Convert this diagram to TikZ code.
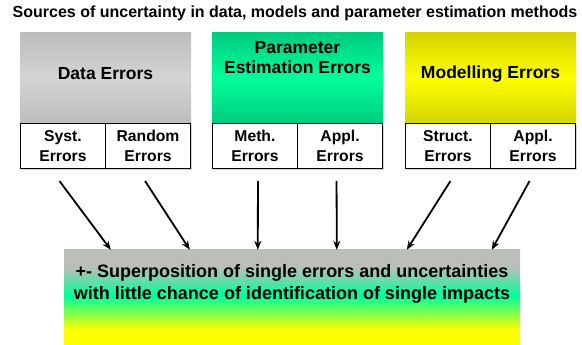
\documentclass[tikz,border=0pt]{standalone}
\usepackage{xcolor}
\usepackage{fontspec}
\setmainfont{Liberation Sans}
\usetikzlibrary{arrows.meta,shadows}

\begin{document}
\begin{tikzpicture}[x=1pt,y=1pt,
  headbox/.style={minimum width=171pt,minimum height=90pt,inner sep=0pt,draw=none},
  headtext/.style={align=center,font=\fontsize{17.5}{20}\selectfont\bfseries},
  subbox/.style={draw=black,line width=0.8pt,fill=white,minimum width=85.5pt,minimum height=45pt,
    inner sep=0pt,align=center,font=\fontsize{15.7}{20}\selectfont\bfseries,
    drop shadow={shadow xshift=1.2pt,shadow yshift=-1.2pt,opacity=0.35,fill=gray}},
  resbox/.style={minimum width=456pt,minimum height=95pt,inner sep=0pt,draw=none,shading=resshade},
  restext/.style={align=center,font=\fontsize{18}{21.5}\selectfont\bfseries},
  arr/.style={line width=1.8pt,-{Stealth[length=9pt,width=7pt]}}]
\definecolor{cdt}{rgb}{0.74,0.74,0.74}
\definecolor{cdm}{rgb}{0.83,0.83,0.83}
\definecolor{cpt}{rgb}{0.0,0.80,0.50}
\definecolor{cpm}{rgb}{0.0,1.0,0.60}
\definecolor{cmt}{rgb}{0.83,0.83,0.0}
\definecolor{cmm}{rgb}{1.0,1.0,0.0}
\definecolor{crg}{rgb}{0.73,0.75,0.73}
\definecolor{crn}{rgb}{0.0,1.0,0.60}
\definecolor{cry}{rgb}{1.0,1.0,0.0}
\pgfdeclareverticalshading{resshade}{100bp}{color(0bp)=(cry); color(33bp)=(cry);
  color(51bp)=(crn); color(66bp)=(crg); color(100bp)=(crg)}
\useasboundingbox (0,0) rectangle (582,345);
%
\node[font=\fontsize{16}{18}\selectfont\bfseries] (title) at (295,332)
  {Sources of uncertainty in data, models and parameter estimation methods};
%
\node[headbox,top color=cdt,bottom color=cdt,middle color=cdm] (data) at (105.5,267) {};
\node[headbox,top color=cpt,bottom color=cpt,middle color=cpm] (param) at (297.5,267) {};
\node[headbox,top color=cmt,bottom color=cmt,middle color=cmm] (model) at (490.5,267) {};
\node[headtext] (datatext) at (105.5,271) {Data Errors};
\node[headtext] (paramtext) at (297.5,287) {Parameter\\Estimation Errors};
\node[headtext] (modeltext) at (490.5,271) {Modelling Errors};
%
\node[subbox,anchor=north west] (syst) at (data.south west) {Syst.\\Errors};
\node[subbox,anchor=north east] (rand) at (data.south east) {Random\\Errors};
\node[subbox,anchor=north west] (meth) at (param.south west) {Meth.\\Errors};
\node[subbox,anchor=north east] (pappl) at (param.south east) {Appl.\\Errors};
\node[subbox,anchor=north west] (struct) at (model.south west) {Struct.\\Errors};
\node[subbox,anchor=north east] (mappl) at (model.south east) {Appl.\\Errors};
%
\node[resbox] (res) at (292,47.5) {};
\node[restext] (restext) at (292,61)
  {+- Superposition of single errors and uncertainties\\with little chance of identification of single impacts};
%
\draw[arr] ([xshift=-3.5pt,yshift=-12pt]syst.south) -- ([xshift=47pt]res.north west);
\draw[arr] ([xshift=-3pt,yshift=-12pt]rand.south) -- ([xshift=126pt]res.north west);
\draw[arr] ([xshift=3pt,yshift=-12pt]meth.south) -- ([xshift=194pt]res.north west);
\draw[arr] ([xshift=-3.5pt,yshift=-12pt]pappl.south) -- ([xshift=273pt]res.north west);
\draw[arr] ([xshift=2.5pt,yshift=-12pt]struct.south) -- ([xshift=343pt]res.north west);
\draw[arr] ([xshift=-3.5pt,yshift=-12pt]mappl.south) -- ([xshift=428pt]res.north west);
%
\end{tikzpicture}
\end{document}
